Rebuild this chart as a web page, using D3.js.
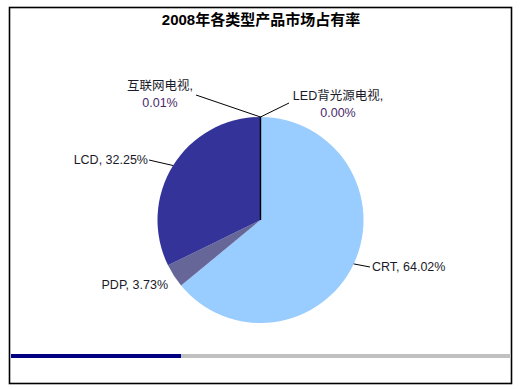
<!DOCTYPE html>
<html>
<head>
<meta charset="utf-8">
<script src="https://cdn.jsdelivr.net/npm/d3@7"></script>
<style>
  body { margin: 0; background: #fff; }
  text { font-family: "Liberation Sans", Arial, "Noto Sans CJK SC", sans-serif; }
</style>
</head>
<body>
<svg id="pie_vis"></svg>
<script>
// data
let categories = ["CRT", "PDP", "LCD", "互联网电视", "LED背光源电视"];
let shares = [64.02, 3.73, 32.25, 0.01, 0.00];
let colors = ["#99CCFF", "#666699", "#333399", "#333399", "#99CCFF"];
let title = "2008年各类型产品市场占有率";

let config = {
  'svg': { width: 520, height: 389 },
  'pie': { x: 260.5, y: 220, r: 103 },
  'bar': { x: 11, y: 354, width: 500, height: 4, split: 170 }
};

// label layout, one per category
let labelLayout = [
  { x: 372, y: 271, anchor: "start", lines: 1, leader: [370, 267] },
  { x: 168, y: 289, anchor: "end", lines: 1, leader: null },
  { x: 148, y: 164, anchor: "end", lines: 1, leader: [149, 160] },
  { x: 160, y: 90, anchor: "middle", lines: 2, leader: [196, 95] },
  { x: 338, y: 100, anchor: "middle", lines: 2, leader: [289, 103] }
];

let svg = d3.select("svg#pie_vis")
  .attr("width", config.svg.width)
  .attr("height", config.svg.height);

svg.append("rect")
  .attr("x", 9.5).attr("y", 7.5)
  .attr("width", 502).attr("height", 376)
  .attr("fill", "#fff")
  .attr("stroke", "#000")
  .attr("stroke-width", 1.6);

svg.append("text")
  .text(title)
  .attr("x", 261)
  .attr("y", 25)
  .attr("text-anchor", "middle")
  .attr("font-size", "15px")
  .attr("font-weight", "bold")
  .attr("fill", "#000");

let data = categories.map((c, i) => ({ name: c, value: shares[i], color: colors[i], layout: labelLayout[i] }));

let pie = d3.pie().sort(null).value(d => d.value);
let arcs = pie(data);

let arc = d3.arc().innerRadius(0).outerRadius(config.pie.r);

let plot = svg.append("g")
  .attr("transform", translate(config.pie.x, config.pie.y));

plot.selectAll("path")
  .data(arcs)
  .enter()
  .append("path")
  .attr("d", arc)
  .attr("fill", d => d.data.color)
  .attr("stroke", d => d.data.value < 0.1 ? "#000" : "none")
  .attr("stroke-width", 1.2);

// leader lines
arcs.forEach(function(d) {
  let l = d.data.layout;
  if (!l.leader) return;
  let mid = (d.startAngle + d.endAngle) / 2;
  let px = config.pie.x + config.pie.r * Math.sin(mid);
  let py = config.pie.y - config.pie.r * Math.cos(mid);
  svg.append("line")
    .attr("x1", px).attr("y1", py)
    .attr("x2", l.leader[0]).attr("y2", l.leader[1])
    .attr("stroke", "#000")
    .attr("stroke-width", 1);
});

// labels
arcs.forEach(function(d) {
  let l = d.data.layout;
  let pct = d.data.value.toFixed(2) + "%";
  if (l.lines === 1) {
    svg.append("text")
      .text(d.data.name + ", " + pct)
      .attr("x", l.x).attr("y", l.y)
      .attr("text-anchor", l.anchor)
      .attr("font-size", "12.5px")
      .attr("fill", "#1a1a2a");
  } else {
    svg.append("text")
      .text(d.data.name + ",")
      .attr("x", l.x).attr("y", l.y)
      .attr("text-anchor", l.anchor)
      .attr("font-size", "12.5px")
      .attr("fill", "#1a1a2a");
    svg.append("text")
      .text(pct)
      .attr("x", l.x).attr("y", l.y + 17)
      .attr("text-anchor", l.anchor)
      .attr("font-size", "12.5px")
      .attr("fill", "#4a2a6a");
  }
});

// bottom bar
svg.append("rect")
  .attr("x", config.bar.x).attr("y", config.bar.y)
  .attr("width", config.bar.width).attr("height", config.bar.height)
  .attr("fill", "#C0C0C0");
svg.append("rect")
  .attr("x", config.bar.x).attr("y", config.bar.y)
  .attr("width", config.bar.split).attr("height", config.bar.height)
  .attr("fill", "#000080");

function translate(x, y) {
  return 'translate(' + x + ',' + y + ')';
}
</script>
</body>
</html>
